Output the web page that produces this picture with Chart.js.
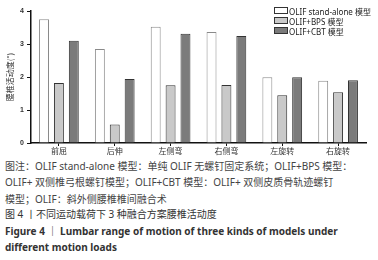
<!DOCTYPE html>
<html>
<head>
<meta charset="utf-8">
<script src="https://cdn.jsdelivr.net/npm/chart.js@4/dist/chart.umd.min.js"></script>
<style>
  body { margin: 0; background: #fff; width: 378px; height: 260px; overflow: hidden; position: relative; }
  #wrap { position: absolute; left: 0; top: 0; width: 378px; height: 158px; }
  .legend { position: absolute; left: 274px; top: 7px; font: 8px "Noto Sans", "Noto Sans CJK SC", sans-serif; color: #222; }
  .legend div { height: 10px; line-height: 10px; white-space: nowrap; }
  .legend span.box { display: inline-block; width: 12px; height: 5px; border: 1px solid #333; margin-right: 1px; vertical-align: 1px; }
  .cap { position: absolute; left: 5px; font-size: 10px; white-space: nowrap; color: #444; font-family: "Noto Sans", "Noto Sans CJK SC", sans-serif; line-height: 12px; }
  .cap b { color: #333; }
</style>
</head>
<body>
<div id="wrap"><canvas id="myChart" width="378" height="158"></canvas></div>
<div class="legend" id="legend"></div>
<div class="cap" style="top:160px">图注：OLIF stand-alone 模型：单纯 OLIF 无螺钉固定系统；OLIF+BPS 模型：</div>
<div class="cap" style="top:176px">OLIF+ 双侧椎弓根螺钉模型；OLIF+CBT 模型：OLIF+ 双侧皮质骨轨迹螺钉</div>
<div class="cap" style="top:193px">模型；OLIF：斜外侧腰椎椎间融合术</div>
<div class="cap" style="top:208px; color:#333">图 4 丨不同运动载荷下 3 种融合方案腰椎活动度</div>
<div class="cap" style="top:225px"><b>Figure 4 ｜ Lumbar range of motion of three kinds of models under</b></div>
<div class="cap" style="top:241px"><b>different motion loads</b></div>
<script>
var categories = ['前屈', '后伸', '左侧弯', '右侧弯', '左旋转', '右旋转'];
var seriesNames = ['OLIF stand-alone 模型', 'OLIF+BPS 模型', 'OLIF+CBT 模型'];
var standAlone = [3.75, 2.85, 3.52, 3.36, 1.99, 1.89];
var bps = [1.82, 0.56, 1.75, 1.76, 1.45, 1.54];
var cbt = [3.1, 1.94, 3.31, 3.24, 1.99, 1.9];
var yTicks = [0, 1, 2, 3, 4];

var fills = ['#ffffff', '#c9c9c9', '#7b7b7b'];
var borders = ['#8a8a8a', '#333333', '#333333'];

var legend = document.getElementById('legend');
for (var i = 0; i < seriesNames.length; i++) {
    var row = document.createElement('div');
    row.innerHTML = '<span class="box" style="background:' + fills[i] + '"></span>' + seriesNames[i];
    legend.appendChild(row);
}

var values = [standAlone, bps, cbt];
var dataSource = {
    labels: categories,
    datasets: []
};
for (var j = 0; j < values.length; j++) {
    dataSource.datasets.push({
        label: seriesNames[j],
        data: values[j],
        backgroundColor: fills[j],
        borderColor: borders[j],
        borderWidth: 1,
        barPercentage: 0.667,
        categoryPercentage: 0.8
    });
}

var ctx = document.getElementById('myChart').getContext('2d');
var myChart = new Chart(ctx, {
    type: 'bar',
    data: dataSource,
    options: {
        responsive: false,
        animation: false,
        layout: { padding: { left: 0, right: 12, top: 11, bottom: 0 } },
        plugins: { legend: { display: false }, tooltip: { enabled: false } },
        scales: {
            x: {
                afterFit: function (scale) { scale.height = 15; },
                border: { display: true, color: '#111', width: 1.5 },
                grid: { display: true, drawOnChartArea: false, offset: false, tickLength: 3, color: '#111' },
                ticks: { color: '#333', padding: 0, font: { size: 8, family: '"Noto Sans CJK SC", sans-serif' } }
            },
            y: {
                min: 0,
                max: 4,
                afterFit: function (scale) { scale.width = 31; },
                afterBuildTicks: function (scale) {
                    scale.ticks = yTicks.map(function (v) { return { value: v }; });
                },
                border: { display: true, color: '#111', width: 1.5 },
                grid: { display: true, drawOnChartArea: false, tickLength: 4, color: '#111' },
                ticks: { color: '#333', padding: 3, font: { size: 7, weight: 'bold', family: '"Liberation Sans", sans-serif' } },
                title: {
                    display: true,
                    text: '腰椎活动度(°)',
                    color: '#333',
                    padding: { top: 5, bottom: 0 },
                    font: { size: 8, family: '"Noto Sans CJK SC", sans-serif' }
                }
            }
        }
    }
});
</script>
</body>
</html>
